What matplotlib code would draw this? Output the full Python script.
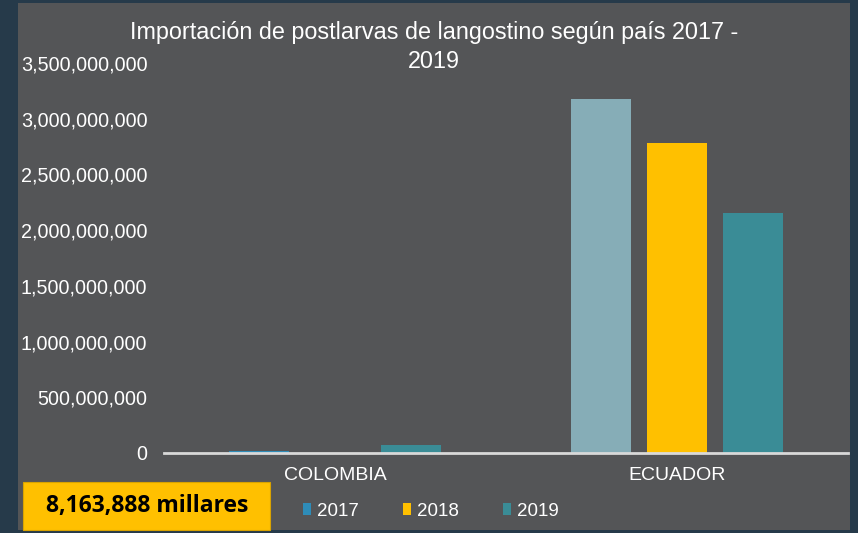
import matplotlib.pyplot as plt
from matplotlib.patches import Patch, Rectangle
import numpy as np

# data
countries = ['COLOMBIA', 'ECUADOR']
years = ['2017', '2018', '2019']
v2017 = [15_000_000, 3_175_000_000]
v2018 = [0, 2_780_000_000]
v2019 = [75_000_000, 2_150_000_000]
yticks = [0, 500_000_000, 1_000_000_000, 1_500_000_000, 2_000_000_000,
          2_500_000_000, 3_000_000_000, 3_500_000_000]
title_lines = ['Importación de postlarvas de langostino según país 2017 -', '2019']
total_label = '8,163,888 millares'

outer_bg = '#263a4a'
panel_bg = '#545557'
c2017 = '#2e8cb8'
c2017_ec = '#86adb7'
c2018 = '#ffc000'
c2019 = '#3a8c96'
txt = '#ffffff'

plt.rcParams['font.family'] = ['Liberation Sans', 'DejaVu Sans']

fig = plt.figure(figsize=(8.58, 5.33), dpi=100)
fig.patch.set_facecolor(outer_bg)

# grey chart panel
fig.add_artist(Rectangle((18 / 858, 3 / 533), 832 / 858, 527 / 533,
                         transform=fig.transFigure, facecolor=panel_bg,
                         edgecolor='none', zorder=0))

ax = fig.add_axes([164 / 858, 80 / 533, 684 / 858, 390 / 533])
ax.set_facecolor('none')

x = np.arange(len(countries))
w = 0.175
off = 0.222
ax.bar(x - off, v2017, w, color=[c2017, c2017_ec])
ax.bar(x, v2018, w, color=c2018)
ax.bar(x + off, v2019, w, color=c2019)

ax.set_xlim(-0.5, 1.5)
ax.set_ylim(0, 3_500_000_000)
ax.set_yticks(yticks)
ax.set_yticklabels([f'{v:,}' for v in yticks])
ax.set_xticks(x)
ax.set_xticklabels(countries, fontsize=14)
ax.tick_params(axis='both', length=0, colors=txt)
ax.tick_params(axis='y', pad=12, labelsize=14.2)
ax.tick_params(axis='x', pad=10)
for s in ['top', 'right', 'left']:
    ax.spines[s].set_visible(False)
ax.spines['bottom'].set_color('#d9d9d9')
ax.spines['bottom'].set_linewidth(2)
ax.spines['bottom'].set_zorder(5)

# title, two lines written separately (second line sits beside the top tick)
for line, ypx in zip(title_lines, [33, 61]):
    fig.text(434 / 858, 1 - ypx / 533, line, ha='center', va='center',
             color=txt, fontsize=16.8)

handles = [Patch(facecolor=c2017), Patch(facecolor=c2018), Patch(facecolor=c2019)]
fig.legend(handles, years, loc='center left', bbox_to_anchor=(303 / 858, 1 - 511 / 533),
           ncol=3, frameon=False, fontsize=13.5, labelcolor=txt,
           handlelength=0.45, handleheight=0.55, handletextpad=0.3,
           columnspacing=2.35, borderaxespad=0, borderpad=0)

# yellow total box
fig.add_artist(Rectangle((23 / 858, 3 / 533), 247 / 858, 48 / 533,
                         transform=fig.transFigure, facecolor=c2018,
                         edgecolor='#d9a300', lw=0.8, zorder=3))
fig.text(147 / 858, 1 - 506 / 533, total_label, ha='center', va='center',
         fontsize=16.5, fontweight='bold', color='#000000',
         family=['Open Sans', 'DejaVu Sans'], zorder=4)

fig.savefig('out.png', dpi=100, facecolor=fig.get_facecolor())
